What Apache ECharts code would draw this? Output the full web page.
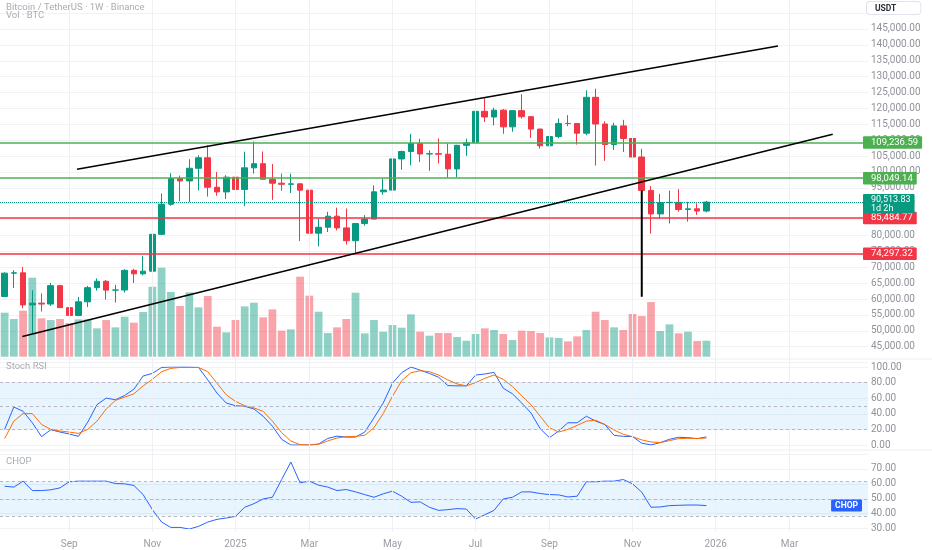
<!DOCTYPE html>
<html><head><meta charset="utf-8">
<script src="https://cdn.jsdelivr.net/npm/echarts@6/dist/echarts.min.js"></script>
<style>html,body{margin:0;padding:0;background:#fff}#c{width:932px;height:550px}</style>
</head><body><div id="c"></div>
<script>
// ---------- data ----------
const startWeek = '2024-07-15';
const totalWeeks = 94;
const opens = [60800,68160,68250,58160,58710,58430,64220,57300,54840,59130,63580,65600,62820,62850,69030,67940,68775,80370,89850,97900,97180,101170,104460,95190,93720,98360,94500,101300,102600,97700,96460,96120,96260,94270,80730,82600,86080,82400,78370,83760,85170,93750,94300,104100,106450,108950,105650,105750,105600,100960,108380,109200,119090,117300,119450,114200,119300,117400,113500,108250,111140,115270,115240,112200,123500,115100,108640,114500,110540,104700,94200,86800,90360,90440,88170,88400,87700];
const highs = [68400,69100,70080,62750,61800,65050,64480,59800,60670,64130,66500,66000,64480,69400,69500,73620,81500,93265,99590,98870,104000,105250,108350,99960,98980,102720,106400,109590,106450,102500,99500,99470,96500,95000,85300,87450,88770,88500,83600,86430,95760,97900,104150,106700,111980,110450,106800,110530,108950,108530,110500,119500,123200,120250,119800,119300,124470,117600,113650,113380,116800,117900,115400,125700,126200,115950,115500,116400,111000,107300,95600,93100,94150,94600,90600,90100,90900];
const lows = [60630,63450,57120,49000,56080,57800,57200,52550,54580,57490,62660,59830,58900,62040,65050,67480,66800,80200,89380,90800,90500,94150,92230,92500,91500,89250,89260,99500,97780,91230,94090,93400,78250,80000,76600,81100,81600,77150,74500,83100,85150,92800,93300,100700,102100,103100,100370,102660,98200,98300,105100,107500,115700,114700,112000,112650,116800,110700,107350,107270,110600,114400,108600,111550,102000,103500,106900,106300,98900,94000,80600,85250,83800,87500,84400,86500,87300];
const closes = [68160,68250,58160,58710,58430,64220,57300,54840,59130,63580,65600,62820,62850,69030,67940,68775,80370,89850,97900,97180,101170,104460,95190,93720,98360,94500,101300,102600,97700,96460,96120,96260,94270,80730,82600,86080,82400,78370,83760,85170,93750,94300,104100,106450,108950,105650,105750,105600,100960,108380,109200,119090,117300,119450,114200,119300,117400,113500,108250,111140,115270,115240,112200,123500,115100,108640,114500,110540,104700,94200,86800,90360,90440,88170,88400,87700,90513.83];
const volumes = [132,113,138,237,115,110,113,101,112,112,85,110,88,120,102,134,210,267,194,152,193,148,182,90,73,110,151,162,118,142,78,82,240,183,135,71,88,113,192,70,110,75,95,87,127,75,63,71,71,59,48,68,85,80,68,50,78,77,71,58,56,46,61,80,135,110,88,80,128,122,164,77,97,70,75,47,48];
const stochK = [20,48.7,43.2,28.5,10.7,19.6,16.6,14.1,11.1,29.3,51.7,60.1,58,63.5,71.5,88.5,91.8,99.4,100,100,100,99.4,83.4,66.5,53.8,50.4,49.6,46.2,36.9,24.2,7.3,0,0,0,1.3,8.4,11.4,10.1,10.1,16.6,34.8,53.8,79.2,92.7,100,96,91.8,86.8,76.2,75.8,75.8,89.7,91,93.1,72.8,65.6,53.8,41.1,20.9,9.4,17.9,28.5,28.5,36.9,30.6,26.3,12.4,11.1,10.7,2.3,0.1,3.1,7.3,9.9,9.4,8.2,10.3];
const stochD = [8.2,30.6,40.3,40.3,26.3,20,17.9,16.6,14.9,20,30.6,46.2,57.2,61.4,65.6,75.8,84.2,94,98.2,99.4,99.4,99.4,94,79.2,64.4,55.9,50.4,47.5,43.2,30.6,15.8,5.2,0.4,0,0.9,5.2,9,10.7,11.1,12.4,22.1,40.3,62.3,82.5,92.7,95.2,94,89.7,83.4,78.3,75.8,80,85.5,89.7,84.2,74.9,63.1,51.7,36.9,22.1,16.6,20,25.1,30.6,31.8,26.3,19.2,13.7,10.7,6.5,3.9,3.1,5.6,8.2,8.6,8.2,9];
const chop = [58.4,57.8,61.8,55.5,55.5,56,57.3,61.4,61.8,61.8,61.8,61.8,60.2,60,58.9,52.8,42.7,34.4,30.8,30.8,29.7,31.5,34.4,36.2,37.1,38.2,44.3,46.7,49.9,51,62.9,74.6,60.7,61.8,59.1,57.8,55.5,56.2,54.6,52.8,51,53.3,55.1,51.7,47.6,47.9,44.3,42.2,42.7,43.4,43.1,36.4,39.3,42.2,49.9,51,54.6,54.6,53.5,52.8,52.6,51.2,51.7,61.4,61.4,61.8,61.8,62.9,60,54.4,44.3,44.5,45.4,45.6,45.8,45.8,45.4];
const tickDates = ['2024-09-02','2024-11-04','2025-01-06','2025-03-03','2025-05-05','2025-07-07','2025-09-01','2025-11-03','2026-01-05','2026-03-02'];
const tickTexts = ['Sep','Nov','2025','Mar','May','Jul','Sep','Nov','2026','Mar'];
const levelsGreen = [109236.59, 98049.14];
const levelsRed = [85484.77, 74297.32];
const lastPrice = 90513.83;
const countdown = '1d 2h';
const upperTrend = [[7.84,100840],[83.75,139650]];
const lowerTrend = [[1.92,48210],[89.68,111860]];
const markerLine = [[69,94200],[69,60700]];

// ---------- build ----------
const weeks = [];
const d0 = new Date(startWeek + 'T00:00:00Z');
for (let i = 0; i < totalWeeks; i++) weeks.push(new Date(d0.getTime() + i * 7 * 86400000).toISOString().slice(0, 10));
const tickIdx = tickDates.map(d => weeks.indexOf(d));
const FONT = 'Roboto, "Noto Sans", sans-serif';
const UP = '#089981', DOWN = '#F23645';
const fmt2 = v => Number(v).toLocaleString('en-US', {minimumFractionDigits: 2, maximumFractionDigits: 2});
const axisTxt = '#8f929b';
const gridCol = '#f1f2f5';
const L = 0, R = 64;

const chart = echarts.init(document.getElementById('c'));
const hiddenCat = g => ({type: 'category', gridIndex: g, data: weeks, show: false});
const dash = {color: '#b4b7bf', width: 1, type: [3, 3]};

chart.setOption({
  animation: false,
  backgroundColor: '#ffffff',
  grid: [
    {left: L, right: R, top: 0, height: 532},
    {left: L, right: R, top: 13.1, height: 349.5},
    {left: L, right: R, top: 0, height: 356.7},
    {left: L, right: R, top: 367, height: 78},
    {left: L, right: R, top: 454, height: 74.6}
  ],
  xAxis: [
    {type: 'category', gridIndex: 0, data: weeks, axisLine: {show: false}, axisTick: {show: false}, splitLine: {show: false},
     axisLabel: {interval: (i) => tickIdx.indexOf(i) >= 0, formatter: (v, i) => { const k = tickIdx.indexOf(i); return k >= 0 ? tickTexts[k] : ''; },
       color: '#9a9da5', fontSize: 10, fontFamily: FONT, margin: 7}},
    hiddenCat(1),
    {type: 'value', gridIndex: 1, min: -0.5, max: totalWeeks - 0.5, show: false},
    hiddenCat(2),
    hiddenCat(3),
    hiddenCat(4)
  ],
  yAxis: [
    {type: 'value', gridIndex: 0, min: 0, max: 1, show: false},
    {type: 'value', gridIndex: 1, position: 'right', min: 40000, max: 150000, interval: 5000,
     axisLine: {show: false}, axisTick: {show: false}, splitLine: {lineStyle: {color: gridCol}},
     axisLabel: {formatter: fmt2, showMinLabel: false, showMaxLabel: false, color: axisTxt, fontSize: 10, fontFamily: FONT, margin: 3}},
    {type: 'value', gridIndex: 2, min: 0, max: 1070, show: false},
    {type: 'value', gridIndex: 3, position: 'right', min: 0, max: 100, interval: 20,
     axisLine: {show: false}, axisTick: {show: false}, splitLine: {lineStyle: {color: gridCol}},
     axisLabel: {formatter: fmt2, color: axisTxt, fontSize: 10, fontFamily: FONT, margin: 3}},
    {type: 'value', gridIndex: 4, position: 'right', min: 30, max: 80, interval: 10,
     axisLine: {show: false}, axisTick: {show: false}, splitLine: {lineStyle: {color: gridCol}},
     axisLabel: {formatter: fmt2, showMaxLabel: false, color: axisTxt, fontSize: 10, fontFamily: FONT, margin: 3}}
  ],
  series: [
    {type: 'line', xAxisIndex: 0, yAxisIndex: 0, data: [null], silent: true, symbol: 'none', z: 0,
     markLine: {silent: true, symbol: ['none', 'none'], label: {show: false},
       lineStyle: {color: '#eef0f3', width: 1, type: 'solid'},
       data: tickIdx.map(i => ({xAxis: weeks[i]}))}},
    {type: 'bar', name: 'Vol', xAxisIndex: 3, yAxisIndex: 2, barWidth: '84%', z: 1, silent: true,
     data: volumes.map((v, i) => ({value: v, itemStyle: {color: closes[i] >= opens[i] ? 'rgba(8,153,129,0.45)' : 'rgba(242,54,69,0.45)'}}))},
    {type: 'candlestick', xAxisIndex: 1, yAxisIndex: 1, barWidth: '66%', z: 3, silent: true,
     data: opens.map((o, i) => [o, closes[i], lows[i], highs[i]]),
     itemStyle: {color: UP, color0: DOWN, borderColor: UP, borderColor0: DOWN, borderWidth: 1},
     markLine: {silent: true, symbol: ['none', 'none'], label: {show: false}, data: [
       ...levelsGreen.map(v => ({yAxis: v, lineStyle: {color: '#4CAF50', width: 1.5, type: 'solid'}})),
       ...levelsRed.map(v => ({yAxis: v, lineStyle: {color: '#F23645', width: 1.5, type: 'solid'}})),
       {yAxis: lastPrice, lineStyle: {color: UP, width: 1, type: 'dotted'}}
     ]}},
    {type: 'line', xAxisIndex: 2, yAxisIndex: 1, data: upperTrend, symbol: 'none', z: 5, silent: true, lineStyle: {color: '#000', width: 1.5}},
    {type: 'line', xAxisIndex: 2, yAxisIndex: 1, data: lowerTrend, symbol: 'none', z: 5, silent: true, lineStyle: {color: '#000', width: 1.5}},
    {type: 'line', xAxisIndex: 2, yAxisIndex: 1, data: markerLine, symbol: 'none', z: 5, silent: true, lineStyle: {color: '#000', width: 2}},
    {type: 'line', name: 'K', xAxisIndex: 4, yAxisIndex: 3, data: stochK, symbol: 'none', z: 4, silent: true,
     lineStyle: {color: '#2962FF', width: 1},
     markArea: {silent: true, itemStyle: {color: 'rgba(33,150,243,0.1)'}, data: [[{yAxis: 20}, {yAxis: 80}]]},
     markLine: {silent: true, symbol: ['none', 'none'], label: {show: false}, lineStyle: dash, data: [{yAxis: 80}, {yAxis: 50}, {yAxis: 20}]}},
    {type: 'line', name: 'D', xAxisIndex: 4, yAxisIndex: 3, data: stochD, symbol: 'none', z: 4, silent: true,
     lineStyle: {color: '#FF6D00', width: 1}},
    {type: 'line', name: 'CHOP', xAxisIndex: 5, yAxisIndex: 4, data: chop, symbol: 'none', z: 4, silent: true,
     lineStyle: {color: '#2962FF', width: 1},
     markArea: {silent: true, itemStyle: {color: 'rgba(33,150,243,0.1)'}, data: [[{yAxis: 38.2}, {yAxis: 61.8}]]},
     markLine: {silent: true, symbol: ['none', 'none'], label: {show: false}, lineStyle: dash, data: [{yAxis: 61.8}, {yAxis: 50}, {yAxis: 38.2}]}}
  ]
});

// ---------- overlay labels positioned through the chart's own scales ----------
const py = v => chart.convertToPixel({yAxisIndex: 1}, v);
const cy = v => chart.convertToPixel({yAxisIndex: 4}, v);
const g = [];
const txt = (x, y, text, fill, size) => g.push({type: 'text', x, y, z: 100,
  style: {text, fill, font: size + 'px ' + FONT, verticalAlign: 'middle'}});
txt(6, 7.5, 'Bitcoin / TetherUS · 1W · Binance', '#a9acb3', 9.5);
txt(6, 16, 'Vol · BTC', '#a9acb3', 9.5);
txt(6, 367, 'Stoch RSI', '#a9acb3', 9.5);
txt(6, 462, 'CHOP', '#a9acb3', 9.5);
// pane separators
[359, 450].forEach(y => g.push({type: 'line', z: 90, shape: {x1: 0, y1: y, x2: 932, y2: y}, style: {stroke: '#eceef2', lineWidth: 1}}));
// currency box
g.push({type: 'text', x: 867, y: 2, z: 100, style: {text: 'USDT', fill: '#2a2e39', font: 'bold 8.5px ' + FONT,
  backgroundColor: '#fff', borderColor: '#e0e3eb', borderWidth: 1, borderRadius: 3, padding: [2, 24, 1, 8]}});
const box = (v, text, bg, z) => g.push({type: 'text', x: 863, y: py(v), z: z,
  style: {text, fill: '#fff', font: '9.5px ' + FONT, verticalAlign: 'middle', backgroundColor: bg, padding: [1.5, 4, 1, 8], borderRadius: 1}});
levelsGreen.forEach(v => box(v, fmt2(v), '#4CAF50', 110));
levelsRed.forEach(v => box(v, fmt2(v), '#F23645', 112));
g.push({type: 'text', x: 863, y: py(lastPrice) - 8, z: 113,
  style: {text: fmt2(lastPrice) + '\n' + countdown, fill: '#fff', font: '9px ' + FONT, lineHeight: 8.5, verticalAlign: 'top',
    backgroundColor: UP, padding: [1.5, 4, 1, 8], borderRadius: 1}});
g.push({type: 'text', x: 862, y: cy(chop[chop.length - 1]), z: 110,
  style: {text: 'CHOP', fill: '#fff', font: 'bold 8.5px ' + FONT, align: 'right', verticalAlign: 'middle',
    backgroundColor: '#2962FF', padding: [2, 4, 1, 4], borderRadius: 1}});
chart.setOption({graphic: {elements: g}});
</script>
</body></html>
